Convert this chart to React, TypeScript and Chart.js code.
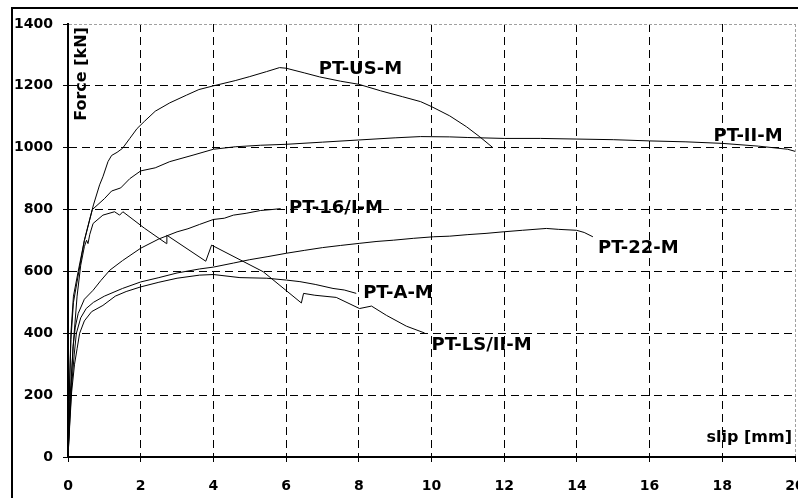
import { useEffect, useRef } from "react";
import { Chart, registerables } from "chart.js";

Chart.register(...registerables);

// ---------- axis setup ----------
const X_MIN = 0;
const X_MAX = 20;
const X_STEP = 2;
const Y_MIN = 0;
const Y_MAX = 1400;
const Y_STEP = 200;
const X_TITLE = "slip [mm]";
const Y_TITLE = "Force [kN]";

// ---------- series (slip [mm], force [kN]) ----------
const PT_US_M: number[][] = [
  [0, 0], [0.03, 180], [0.08, 400], [0.15, 520], [0.28, 600], [0.45, 700], [0.6, 770],
  [0.7, 815], [0.87, 880], [0.96, 906], [1.1, 955], [1.2, 975], [1.35, 985], [1.5, 998],
  [1.7, 1030], [1.9, 1062], [2.1, 1085], [2.4, 1118], [2.8, 1145], [3.26, 1170], [3.6, 1188],
  [4.0, 1200], [4.6, 1217], [5.0, 1230], [5.46, 1246], [5.82, 1259], [6.0, 1257], [6.5, 1242],
  [6.92, 1229], [7.5, 1215], [8.0, 1205], [8.6, 1184], [9.2, 1165], [9.7, 1149], [10.0, 1133],
  [10.5, 1103], [10.96, 1068], [11.33, 1035], [11.68, 1001],
];

const PT_II_M: number[][] = [
  [0, 0], [0.03, 170], [0.08, 380], [0.15, 500], [0.3, 600], [0.45, 700], [0.67, 800],
  [1.0, 835], [1.2, 860], [1.45, 870], [1.7, 900], [2.0, 925], [2.4, 935], [2.8, 955],
  [3.44, 976], [4.0, 995], [4.6, 1003], [5.3, 1008], [6.0, 1011], [7.0, 1018], [8.0, 1025],
  [9.0, 1032], [9.7, 1036], [10.5, 1035], [11.0, 1033], [12.0, 1030], [13.0, 1030],
  [14.0, 1028], [15.0, 1026], [16.0, 1022], [17.0, 1019], [18.0, 1014], [19.0, 1005],
  [19.8, 995], [20.1, 985],
];

const PT_16_I_M: number[][] = [
  [0, 0], [0.05, 150], [0.1, 260], [0.14, 356], [0.2, 420], [0.28, 464], [0.45, 510],
  [0.69, 539], [0.9, 570], [1.15, 604], [1.5, 635], [2.0, 675], [2.5, 705], [3.0, 728],
  [3.3, 738], [3.62, 752], [4.0, 768], [4.3, 772], [4.55, 782], [4.9, 788], [5.3, 797],
  [5.6, 800], [5.85, 803],
];

const PT_LS_II_M: number[][] = [
  [0, 0], [0.05, 180], [0.14, 356], [0.25, 520], [0.35, 620], [0.45, 680], [0.51, 701],
  [0.55, 690], [0.6, 720], [0.69, 755], [0.96, 782], [1.28, 793], [1.42, 782], [1.51, 793],
  [2.1, 740], [2.71, 690], [2.72, 717], [3.79, 633], [3.95, 685], [5.37, 599], [6.42, 498],
  [6.48, 529], [6.79, 523], [7.38, 516], [8.02, 480], [8.35, 488], [8.76, 458], [9.31, 423],
  [9.81, 401],
];

const PT_22_M: number[][] = [
  [0, 0], [0.05, 120], [0.1, 230], [0.17, 330], [0.23, 400], [0.35, 450], [0.5, 480],
  [0.7, 500], [1.0, 520], [1.5, 545], [2.0, 566], [2.5, 580], [3.0, 595], [3.62, 608],
  [4.0, 614], [4.55, 627], [5.0, 638], [5.5, 648], [6.02, 659], [6.5, 668], [7.0, 677],
  [7.5, 684], [8.03, 691], [8.5, 697], [8.95, 701], [9.5, 707], [10.05, 712], [10.5, 714],
  [11.0, 719], [11.5, 723], [11.97, 728], [12.5, 733], [13.16, 739], [13.5, 736],
  [13.99, 733], [14.2, 726], [14.44, 712],
];

const PT_A_M: number[][] = [
  [0, 0], [0.05, 110], [0.1, 210], [0.18, 300], [0.25, 350], [0.32, 400], [0.45, 440],
  [0.65, 470], [0.96, 490], [1.3, 520], [1.6, 535], [2.0, 550], [2.5, 565], [3.0, 578],
  [3.62, 588], [4.0, 590], [4.73, 580], [5.47, 578], [6.01, 572], [6.38, 567], [6.8, 558],
  [7.29, 545], [7.6, 540], [7.93, 529],
];

const SERIES_NAMES = ["PT-US-M", "PT-II-M", "PT-16/I-M", "PT-LS/II-M", "PT-22-M", "PT-A-M"];
const SERIES_DATA = [PT_US_M, PT_II_M, PT_16_I_M, PT_LS_II_M, PT_22_M, PT_A_M];

// label anchor (left edge, vertical centre) in data units
const LABEL_X = [6.9, 17.76, 6.08, 10.0, 14.58, 8.12];
const LABEL_Y = [1258, 1044, 811, 368, 682, 536];

const FONT = "'DejaVu Sans', 'Liberation Sans', sans-serif";

export default function App() {
  const ref = useRef<HTMLCanvasElement>(null);

  useEffect(() => {
    const canvas = ref.current;
    if (!canvas) return;

    const decor = {
      id: "decor",
      beforeDraw(chart: any) {
        const ctx = chart.ctx;
        ctx.save();
        ctx.fillStyle = "#fff";
        ctx.fillRect(0, 0, chart.width, chart.height);
        ctx.strokeStyle = "#000";
        ctx.lineWidth = 2;
        ctx.strokeRect(12, 8, 900, 600);
        ctx.restore();
      },
      afterDatasetsDraw(chart: any) {
        const ctx = chart.ctx;
        const xs = chart.scales.x;
        const ys = chart.scales.y;
        ctx.save();
        ctx.fillStyle = "#000";
        ctx.font = `bold 18px ${FONT}`;
        ctx.textAlign = "left";
        ctx.textBaseline = "alphabetic";
        SERIES_NAMES.forEach((name, i) => {
          const px = xs.getPixelForValue(LABEL_X[i]);
          const py = ys.getPixelForValue(LABEL_Y[i]);
          ctx.fillText(name, px, py + 6.5);
        });
        // x title
        ctx.font = `bold 16px ${FONT}`;
        ctx.textAlign = "right";
        ctx.fillText(X_TITLE, chart.chartArea.right - 3, chart.chartArea.bottom - 15);
        // y title
        ctx.translate(chart.chartArea.left + 18, chart.chartArea.top + 50);
        ctx.rotate(-Math.PI / 2);
        ctx.textAlign = "center";
        ctx.fillText(Y_TITLE, 0, 0);
        ctx.restore();
      },
    };

    const edgeX = (c: any) => c.tick && c.tick.value === X_MAX;
    const edgeY = (c: any) => c.tick && c.tick.value === Y_MAX;

    const chart = new Chart(canvas, {
      type: "line",
      data: {
        datasets: SERIES_DATA.map((d, i) => ({
          label: SERIES_NAMES[i],
          data: d.map(([x, y]) => ({ x, y })),
          borderColor: "#000",
          borderWidth: 1,
          pointRadius: 0,
          tension: 0,
          fill: false,
        })),
      },
      options: {
        responsive: false,
        animation: false,
        layout: { padding: { left: 12, top: 24, right: 35, bottom: 0 } },
        plugins: { legend: { display: false }, tooltip: { enabled: false } },
        scales: {
          x: {
            type: "linear",
            min: X_MIN,
            max: X_MAX,
            afterFit: (s: any) => { s.height = 41; },
            ticks: {
              stepSize: X_STEP,
              autoSkip: false,
              maxRotation: 0,
              padding: 16,
              color: "#000",
              font: { family: FONT, size: 14, weight: "bold" },
              callback: (v: any) => String(v),
            },
            grid: {
              color: (c: any) => (edgeX(c) ? "#a0a0a0" : "#000"),
              lineWidth: 1,
              tickLength: 5,
              tickColor: "#000",
              tickWidth: 1,
            },
            border: {
              color: "#000",
              width: 2,
              dash: (c: any) => (edgeX(c) ? [3, 2] : [8, 5]),
            },
          },
          y: {
            type: "linear",
            min: Y_MIN,
            max: Y_MAX,
            afterFit: (s: any) => { s.width = 56; },
            ticks: {
              stepSize: Y_STEP,
              padding: 10,
              color: "#000",
              font: { family: FONT, size: 14, weight: "bold" },
              callback: (v: any) => String(v),
            },
            grid: {
              color: (c: any) => (edgeY(c) ? "#a0a0a0" : "#000"),
              lineWidth: 1,
              tickLength: 5,
              tickColor: "#000",
              tickWidth: 1,
            },
            border: {
              color: "#000",
              width: 2,
              dash: (c: any) => (edgeY(c) ? [3, 2] : [8, 5]),
            },
          },
        },
      } as any,
      plugins: [decor],
    });

    return () => chart.destroy();
  }, []);

  return (
    <div
      style={{
        position: "fixed",
        left: 0,
        top: 0,
        width: 798,
        height: 498,
        overflow: "hidden",
        background: "#fff",
      }}
    >
      <canvas ref={ref} width={830} height={498} style={{ display: "block" }} />
    </div>
  );
}
